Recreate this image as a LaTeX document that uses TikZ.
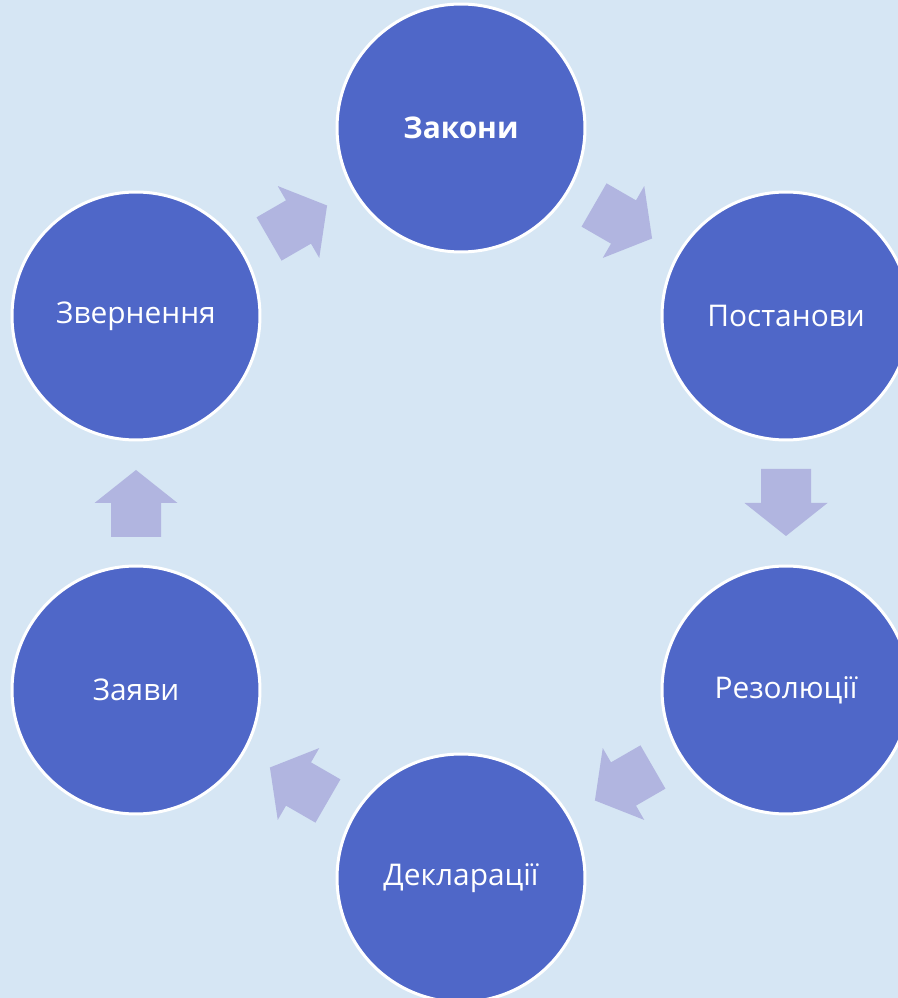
\documentclass[tikz,border=0pt]{standalone}
\usepackage{fontspec}
\setmainfont{Open Sans}
\usetikzlibrary{calc, positioning}
\definecolor{bgblue}{HTML}{D6E6F4}
\definecolor{circblue}{HTML}{4F67C8}
\definecolor{arrowlilac}{HTML}{B1B5E0}
\tikzstyle{kind} = [circle, minimum size=4.96cm, inner sep=0pt, fill=circblue,
	draw=white, line width=0.06cm, text=white, font=\fontsize{17}{20}\selectfont]
\tikzset{blockarrow/.pic={
		\fill[arrowlilac] (-34,-25) -- (0,-25) -- (0,-41.5) -- (33,0) -- (0,41.5) -- (0,25) -- (-34,25) -- cycle;
	}}

\begin{document}
\begin{tikzpicture}[x=0.02cm, y=0.02cm]
	\useasboundingbox (0,0) rectangle (898,998);
	\clip (0,0) rectangle (898,998);
	\fill[bgblue] (0,0) rectangle (898,998);

	\node (laws) [kind, font=\fontsize{17}{20}\selectfont\bfseries] at (461,870) {Закони};
	\node (decrees) [kind] at (786,682) {Постанови};
	\node (resolutions) [kind] at (786,308) {Резолюції};
	\node (declarations) [kind] at (461,120) {Декларації};
	\node (statements) [kind] at (136,308) {Заяви};
	\node (appeals) [kind] at (136,682) {Звернення};

	% arrows between neighbours, clockwise
	\pic[rotate=-30] at ($(laws)!0.5!(decrees)$) {blockarrow};
	\pic[rotate=-90] at ($(decrees)!0.5!(resolutions)$) {blockarrow};
	\pic[rotate=-150] at ($(resolutions)!0.5!(declarations)$) {blockarrow};
	\pic[rotate=150] at ($(declarations)!0.5!(statements)$) {blockarrow};
	\pic[rotate=90] at ($(statements)!0.5!(appeals)$) {blockarrow};
	\pic[rotate=30] at ($(appeals)!0.5!(laws)$) {blockarrow};
\end{tikzpicture}
\end{document}
